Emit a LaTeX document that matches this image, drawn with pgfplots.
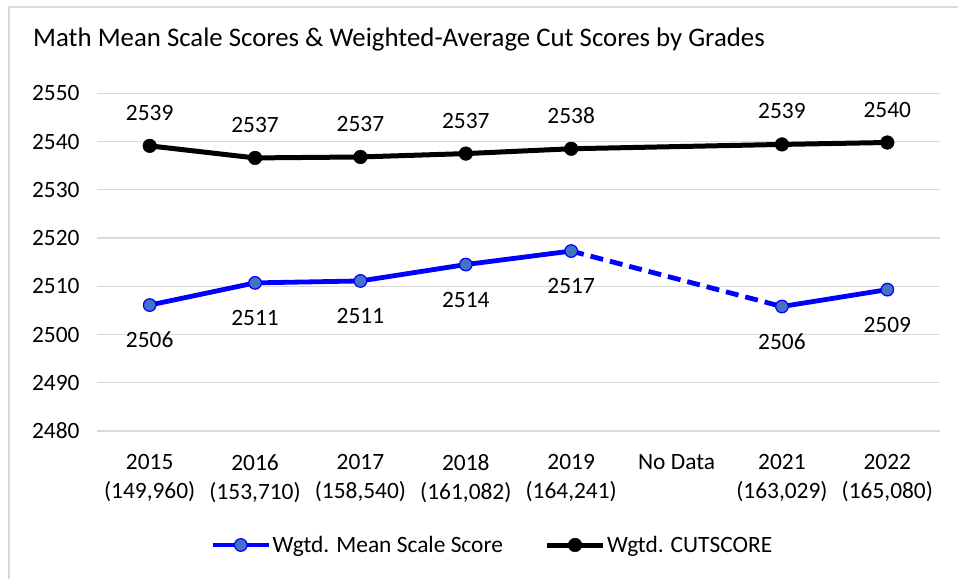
\documentclass[border=0pt]{standalone}
\usepackage{pgfplots}
\pgfplotsset{compat=1.18}
\usepackage{fontspec}
\setmainfont{Carlito}
\definecolor{mblue}{RGB}{0,0,255}
\definecolor{mfill}{RGB}{68,114,196}
\definecolor{gridc}{RGB}{217,217,217}
\newcommand{\lbl}{\fontsize{23.4bp}{29bp}\selectfont}
\begin{document}
\begin{tikzpicture}[x=1bp,y=1bp]
\path[use as bounding box] (0,0) rectangle (958,579);
\fill[white] (0,0) rectangle (958,579);
\draw[gridc, line width=1.2bp] (9,-20) rectangle (990,572);
\node[anchor=base west, inner sep=0pt, font=\fontsize{26.8bp}{30bp}\selectfont] at (33,532) {Math Mean Scale Scores \& Weighted-Average Cut Scores by Grades};
\begin{axis}[
  at={(97bp,148bp)}, anchor=south west,
  scale only axis, width=843bp, height=337.7bp,
  xmin=-0.5, xmax=7.5, ymin=2480, ymax=2550,
  ytick={2480,2490,...,2550},
  xtick={0,...,7},
  xticklabels={{2015\\(149,960)},{2016\\(153,710)},{2017\\(158,540)},{2018\\(161,082)},{2019\\(164,241)},{No Data},{2021\\(163,029)},{2022\\(165,080)}},
  x tick label style={align=center, anchor=north, font=\lbl, yshift=-20bp},
  y tick label style={font=\lbl, xshift=-14bp},
  /pgf/number format/assume math mode=true,
  /pgf/number format/1000 sep={},
  axis line style={draw=none},
  major tick length=0pt,
  ymajorgrids,
  grid style={gridc, line width=1.2bp},
  clip=false,
  legend columns=2,
  legend style={draw=none, fill=none, at={(0.4686,-0.3376)}, anchor=center, font=\lbl,
    /tikz/every even column/.append style={column sep=40bp},
    nodes={inner sep=1.5bp}},
  legend image code/.code={\draw[mark repeat=2,mark phase=2,#1] plot coordinates {(0bp,0bp) (28bp,0bp) (56bp,0bp)};},
]
\addplot[mblue, line width=4.8bp, dash pattern=on 13bp off 7bp, forget plot] coordinates {(4,2517.3) (6,2505.8)};
\addplot[mblue, line width=4.8bp, mark=*, mark size=6.3bp, mark options={fill=mfill, draw=mblue, line width=1.2bp, solid},
  nodes near coords, point meta=explicit symbolic,
  every node near coord/.append style={anchor=center, yshift=-35bp, text=black, font=\lbl}]
  table[meta=lab] {
x y lab
0 2506.1 2506
1 2510.7 2511
2 2511.1 2511
3 2514.5 2514
4 2517.3 2517
};
\addlegendentry{Wgtd. Mean Scale Score}
\addplot[mblue, line width=4.8bp, mark=*, mark size=6.3bp, mark options={fill=mfill, draw=mblue, line width=1.2bp, solid},
  nodes near coords, point meta=explicit symbolic, forget plot,
  every node near coord/.append style={anchor=center, yshift=-35bp, text=black, font=\lbl}]
  table[meta=lab] {
x y lab
6 2505.8 2506
7 2509.3 2509
};
\addplot[black, line width=5bp, mark=*, mark size=6.8bp, mark options={fill=black, draw=black, line width=0.5bp},
  nodes near coords, point meta=explicit symbolic,
  every node near coord/.append style={anchor=center, yshift=33bp, text=black, font=\lbl}]
  table[meta=lab] {
x y lab
0 2539.1 2539
1 2536.6 2537
2 2536.8 2537
3 2537.5 2537
4 2538.5 2538
6 2539.4 2539
7 2539.8 2540
};
\addlegendentry{Wgtd. CUTSCORE}
\end{axis}
\end{tikzpicture}
\end{document}
